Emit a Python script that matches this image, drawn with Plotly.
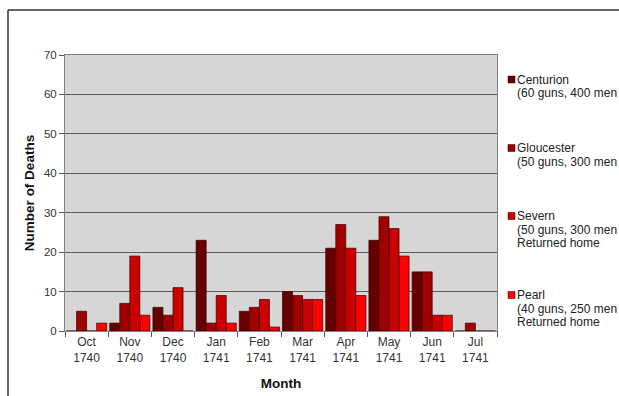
import plotly.graph_objects as go

months = ["Oct<br>1740", "Nov<br>1740", "Dec<br>1740", "Jan<br>1741", "Feb<br>1741",
          "Mar<br>1741", "Apr<br>1741", "May<br>1741", "Jun<br>1741", "Jul<br>1741"]

centurion = [0, 2, 6, 23, 5, 10, 21, 23, 15, 0]
gloucester = [5, 7, 4, 2, 6, 9, 27, 29, 15, 2]
severn = [0, 19, 11, 9, 8, 8, 21, 26, 4, 0]
pearl = [2, 4, 0, 2, 1, 8, 9, 19, 4, 0]

ship_names = ["Centurion", "Gloucester", "Severn", "Pearl"]
ship_notes = [["(60 guns, 400 men"], ["(50 guns, 300 men"],
              ["(50 guns, 300 men", "Returned home"], ["(40 guns, 250 men", "Returned home"]]
ship_colors = ["#660000", "#a00000", "#cc0000", "#ff0000"]
series = [centurion, gloucester, severn, pearl]

fig = go.Figure()
for name, vals, col in zip(ship_names, series, ship_colors):
    fig.add_trace(go.Bar(x=months, y=vals, name=name, marker_color=col,
                         marker_line_color="#3a0000", marker_line_width=0.7,
                         showlegend=False))

FONT = "Liberation Sans, Arial, sans-serif"
L, R, T, B = 65, 122, 55, 65
W, H = 619, 396
pw, ph = W - L - R, H - T - B

def px_x(px):
    return (px - L) / pw

def px_y(py):
    return 1 - (py - T) / ph

# legend drawn as annotations + square shapes
legend_first = [79.5, 148, 216, 295]
LINE = 13.7
for name, notes, col, y0 in zip(ship_names, ship_notes, ship_colors, legend_first):
    fig.add_shape(type="rect", xref="paper", yref="paper",
                  x0=px_x(508), x1=px_x(515), y0=px_y(y0 - 3.5), y1=px_y(y0 + 3.5),
                  fillcolor=col, line=dict(color="#3a0000", width=0.5))
    for i, line in enumerate([name] + notes):
        fig.add_annotation(
            x=px_x(516), y=px_y(y0 + i * LINE), xref="paper", yref="paper",
            xanchor="left", yanchor="middle", align="left", showarrow=False,
            text=line, borderpad=0,
            font=dict(family=FONT, size=12, color="#222222"),
        )

# outer frame (top and left edges visible)
fig.add_shape(type="line", xref="paper", yref="paper",
              x0=px_x(8), x1=px_x(640), y0=px_y(10), y1=px_y(10),
              line=dict(color="#333333", width=1.5))
fig.add_shape(type="line", xref="paper", yref="paper",
              x0=px_x(8), x1=px_x(8), y0=px_y(10), y1=px_y(420),
              line=dict(color="#333333", width=1.5))

fig.update_layout(
    width=W, height=H,
    margin=dict(l=L, r=R, t=T, b=B, autoexpand=False),
    paper_bgcolor="white", plot_bgcolor="#d6d6d6",
    barmode="group", bargap=0.07, bargroupgap=0,
    font=dict(family=FONT, size=11, color="#222222"),
)
fig.update_xaxes(
    showline=True, linecolor="#808080", linewidth=1, mirror=True,
    ticks="outside", tickson="boundaries", ticklen=5, tickcolor="#555555",
    tickfont=dict(size=12, color="#333333"),
    title=dict(text="<b>Month</b>", font=dict(size=13.5, color="#111111"), standoff=14),
    showgrid=False, automargin=False,
)
fig.update_yaxes(
    range=[0, 70], dtick=10, showgrid=True, gridcolor="#5a5a5a", gridwidth=1,
    showline=True, linecolor="#808080", linewidth=1, mirror=True,
    ticks="outside", ticklen=5, tickcolor="#555555",
    tickfont=dict(size=11.5, color="#333333"), zeroline=False,
    title=dict(text="<b>Number of Deaths</b>", font=dict(size=13.5, color="#111111"), standoff=6),
    automargin=False,
)

fig.write_html("out.html", config={"displayModeBar": False},
               post_script="document.body.style.margin='0';document.body.style.overflow='hidden';")
